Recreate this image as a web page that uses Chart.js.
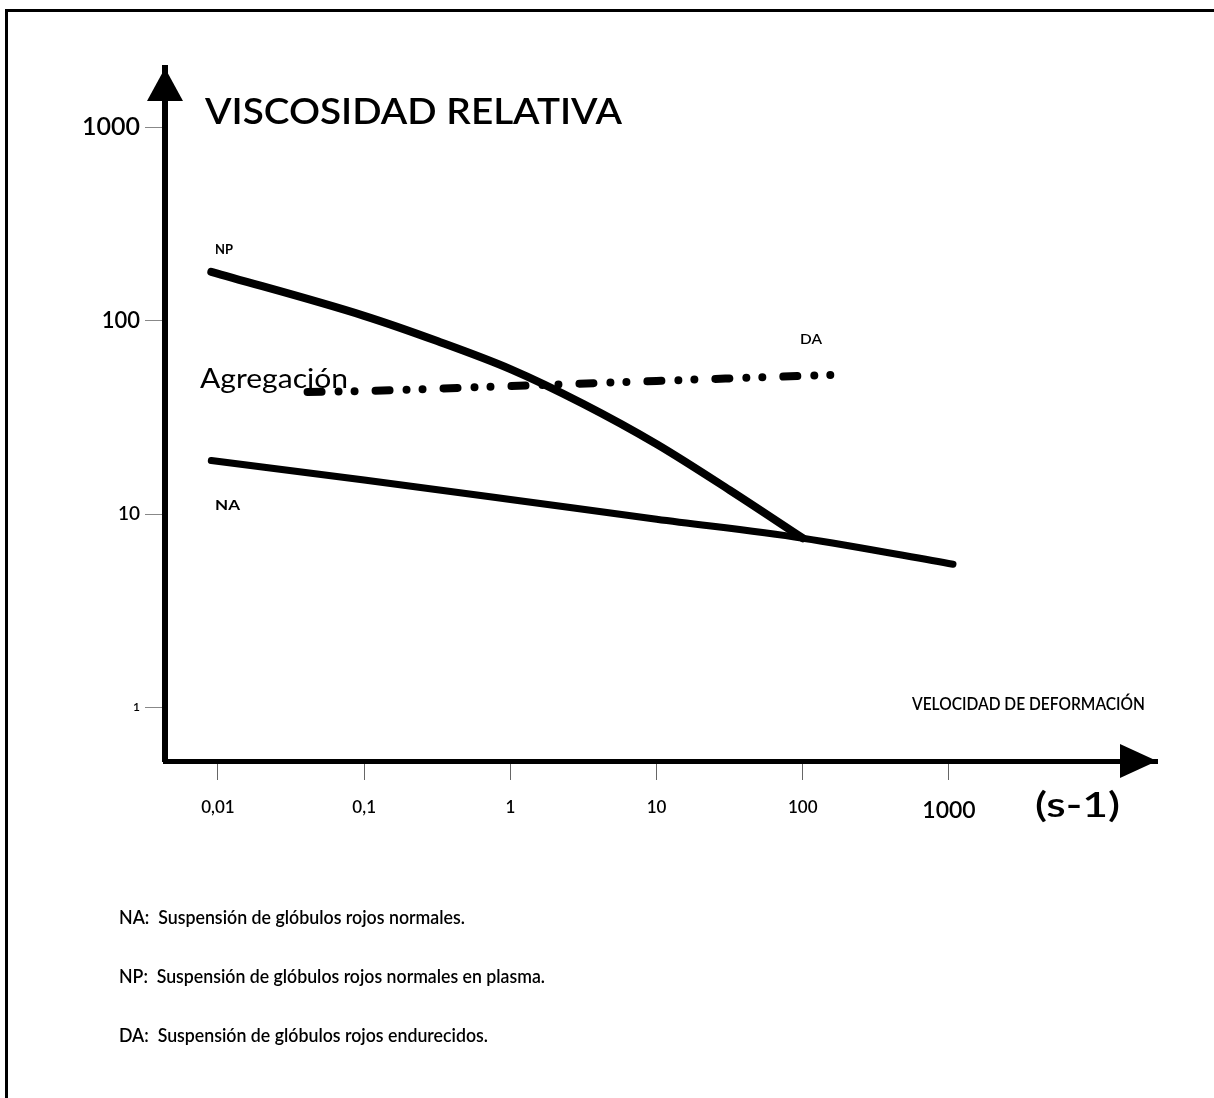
<!DOCTYPE html>
<html>
<head>
<meta charset="utf-8">
<script src="https://cdn.jsdelivr.net/npm/chart.js@4"></script>
<style>
  body { margin: 0; background: #fff; }
  #wrap { position: relative; width: 1214px; height: 1098px; }
  #frame { position: absolute; left: 5px; top: 9px; right: 0; bottom: 0;
           border-top: 3px solid #000; border-left: 3px solid #000; }
  #plot { position: absolute; left: 0; top: 0; }
</style>
</head>
<body>
<div id="wrap">
  <div id="frame"></div>
  <canvas id="plot" width="1214" height="1098"></canvas>
</div>
<script>
// shear rate (s-1) and relative viscosity
const naRate = [0.009, 0.1, 1, 10, 100, 1065];
const naVisc = [18.9, 15.0, 11.9, 9.4, 7.5, 5.5];

const npRate = [0.009, 0.1, 0.316, 1, 3.16, 10, 31.6, 100];
const npVisc = [179, 106, 78.5, 56.2, 37.1, 23.0, 13.3, 7.5];

const daRate = [0.041, 0.1, 1, 10, 100, 180];
const daVisc = [42.8, 43.3, 45.9, 48.8, 51.8, 52.5];

const xTicks = [0.01, 0.1, 1, 10, 100, 1000];
const xTickLabels = ['0,01', '0,1', '1', '10', '100', '1000'];
const xTickSizes = [17, 17, 17, 17, 17, 23];

const yTicks = [1, 10, 100, 1000];
const yTickLabels = ['1', '10', '100', '1000'];
const yTickSizes = [12, 19, 22, 25];

const FONT = 'Lato';

function pts(xs, ys) {
  return xs.map((x, i) => ({x: x, y: ys[i]}));
}

// text squeezed/stretched to a given width
function fitText(ctx, text, x, y, width, size, weight) {
  ctx.font = (weight || '600') + ' ' + size + 'px ' + FONT;
  const w = ctx.measureText(text).width;
  ctx.save();
  ctx.translate(x, y);
  ctx.scale(width / w, 1);
  ctx.textAlign = 'left';
  ctx.textBaseline = 'middle';
  ctx.fillStyle = '#000';
  ctx.fillText(text, 0, 0);
  ctx.restore();
}

const decor = {
  id: 'decor',
  afterDraw(chart) {
    const ctx = chart.ctx;
    const a = chart.chartArea;
    ctx.save();
    ctx.fillStyle = '#000';
    // arrow heads
    ctx.beginPath();
    ctx.moveTo(a.left, a.top);
    ctx.lineTo(a.left - 18, a.top + 33);
    ctx.lineTo(a.left + 18, a.top + 33);
    ctx.closePath();
    ctx.fill();
    ctx.beginPath();
    ctx.moveTo(a.right, a.bottom);
    ctx.lineTo(a.right - 37, a.bottom - 17);
    ctx.lineTo(a.right - 37, a.bottom + 17);
    ctx.closePath();
    ctx.fill();

    fitText(ctx, 'VISCOSIDAD RELATIVA', 205, 112, 417, 37, '600');
    fitText(ctx, 'NP', 215, 250, 18, 13, 'bold');
    fitText(ctx, 'NA', 215, 506, 25, 13, 'bold');
    fitText(ctx, 'DA', 800, 340, 22, 13, '600');
    fitText(ctx, 'Agregación', 200, 380, 148, 26, 'normal');
    fitText(ctx, 'VELOCIDAD DE DEFORMACIÓN', 912, 705, 233, 17, '600');
    fitText(ctx, '(s-1)', 1035, 806, 85, 34, '600');

    fitText(ctx, 'NA:  Suspensión de glóbulos rojos normales.', 119, 918, 346, 19, '600');
    fitText(ctx, 'NP:  Suspensión de glóbulos rojos normales en plasma.', 119, 977, 426, 19, '600');
    fitText(ctx, 'DA:  Suspensión de glóbulos rojos endurecidos.', 119, 1036, 369, 19, '600');
    ctx.restore();
  }
};

new Chart(document.getElementById('plot'), {
  type: 'line',
  data: {
    datasets: [
      {
        label: 'NP',
        data: pts(npRate, npVisc),
        borderColor: '#000',
        borderWidth: 8,
        borderCapStyle: 'round',
        cubicInterpolationMode: 'monotone',
        pointRadius: 0
      },
      {
        label: 'NA',
        data: pts(naRate, naVisc),
        borderColor: '#000',
        borderWidth: 7,
        borderCapStyle: 'round',
        cubicInterpolationMode: 'monotone',
        pointRadius: 0
      },
      {
        label: 'DA',
        data: pts(daRate, daVisc),
        borderColor: '#000',
        borderWidth: 8,
        borderCapStyle: 'round',
        borderDash: [14, 17, 0, 16, 0, 21],
        cubicInterpolationMode: 'monotone',
        pointRadius: 0
      }
    ]
  },
  options: {
    responsive: false,
    animation: false,
    devicePixelRatio: 1,
    layout: { padding: { left: 0, top: 68, right: 57, bottom: 0 } },
    plugins: {
      legend: { display: false },
      tooltip: { enabled: false }
    },
    scales: {
      x: {
        type: 'logarithmic',
        bounds: 'data',
        min: 0.004341,
        max: 26470,
        afterBuildTicks: (s) => { s.ticks = xTicks.map(v => ({value: v})); },
        afterFit: (s) => { s.height = 337; },
        border: { display: true, color: '#000', width: 5 },
        grid: { drawOnChartArea: false, drawTicks: true, tickLength: 19, color: '#666', lineWidth: 1 },
        ticks: {
          autoSkip: false,
          maxRotation: 0,
          padding: 17,
          color: '#000',
          font: (c) => ({ family: FONT, weight: '600', size: xTickSizes[c.index] || 17 }),
          callback: (v, i) => xTickLabels[i]
        }
      },
      y: {
        type: 'logarithmic',
        bounds: 'data',
        min: 0.5276,
        max: 2029,
        afterBuildTicks: (s) => { s.ticks = yTicks.map(v => ({value: v})); },
        afterFit: (s) => { s.width = 165; },
        border: { display: true, color: '#000', width: 6 },
        grid: { drawOnChartArea: false, drawTicks: true, tickLength: 20, color: '#888', lineWidth: 1 },
        ticks: {
          autoSkip: false,
          padding: 5,
          color: '#000',
          font: (c) => ({ family: FONT, weight: '600', size: yTickSizes[c.index] || 20 }),
          callback: (v, i) => yTickLabels[i]
        }
      }
    }
  },
  plugins: [decor]
});
</script>
</body>
</html>
